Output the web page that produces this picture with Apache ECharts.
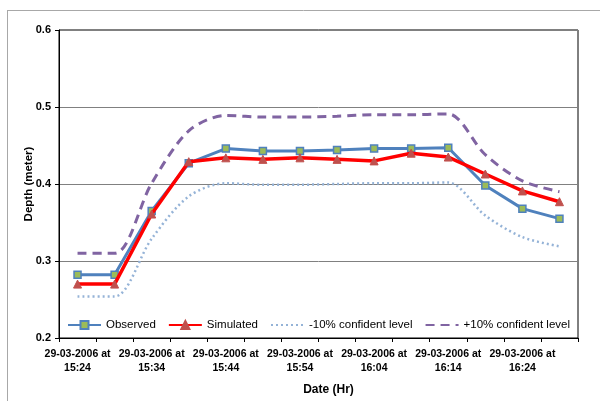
<!DOCTYPE html>
<html>
<head>
<meta charset="utf-8">
<script src="https://cdn.jsdelivr.net/npm/echarts@6/dist/echarts.min.js"></script>
<style>
  html, body { margin: 0; padding: 0; background: #fff; }
  #chart { width: 600px; height: 401px; }
</style>
</head>
<body>
<div id="chart"></div>
<script>
// time slots, every 5 min; only every other one gets a label
const times = ['15:24', '15:29', '15:34', '15:39', '15:44', '15:49', '15:54',
  '15:59', '16:04', '16:09', '16:14', '16:19', '16:24', '16:29'];
const observed = [0.282, 0.282, 0.365, 0.427, 0.446, 0.443, 0.443, 0.444, 0.446, 0.446, 0.447, 0.398, 0.368, 0.355];
const simulated = [0.270, 0.270, 0.361, 0.429, 0.434, 0.432, 0.434, 0.432, 0.430, 0.440, 0.435, 0.413, 0.391, 0.377];
const lower10 = [0.254, 0.254, 0.329, 0.384, 0.401, 0.399, 0.399, 0.400, 0.401, 0.401, 0.402, 0.359, 0.331, 0.319];
const upper10 = [0.310, 0.310, 0.401, 0.469, 0.489, 0.487, 0.487, 0.488, 0.490, 0.490, 0.491, 0.438, 0.404, 0.390];

const font = 'Liberation Sans, Arial, sans-serif';
const chart = echarts.init(document.getElementById('chart'));

const option = {
  animation: false,
  textStyle: { fontFamily: font },
  graphic: [
    // outer chart-area frame (cropped at right/bottom)
    { type: 'line', shape: { x1: 7.5, y1: 10, x2: 7.5, y2: 401 }, style: { stroke: '#a8a8a8', lineWidth: 1 } },
    { type: 'line', shape: { x1: 7, y1: 10.5, x2: 600, y2: 10.5 }, style: { stroke: '#a8a8a8', lineWidth: 1 } }
  ],
  grid: {
    left: 59, right: 22, top: 30, bottom: 62,
    show: true, borderColor: '#000', borderWidth: 1, backgroundColor: 'transparent'
  },
  legend: {
    left: 62, top: 314, width: 530,
    itemWidth: 33, itemHeight: 10, itemGap: 12,
    textStyle: { fontFamily: font, fontSize: 11.5, color: '#000' },
    data: [
      'Observed',
      'Simulated',
      { name: '-10% confident level', itemStyle: { opacity: 0 } },
      { name: '+10% confident level', itemStyle: { opacity: 0 } }
    ]
  },
  xAxis: {
    type: 'category',
    data: times,
    boundaryGap: true,
    name: 'Date (Hr)',
    nameLocation: 'middle',
    nameGap: 46,
    nameMoveOverlap: false,
    nameTextStyle: { fontFamily: font, fontWeight: 'bold', fontSize: 12, color: '#000', padding: [0, 0, 0, 20] },
    axisLine: { lineStyle: { color: '#000', width: 1 } },
    axisTick: { show: true, interval: 0, alignWithLabel: false, length: 4, inside: false, lineStyle: { color: '#000' } },
    axisLabel: {
      interval: 1,
      fontFamily: font, fontWeight: 'bold', fontSize: 10.5, color: '#000',
      lineHeight: 14, margin: 9,
      formatter: (v) => '29-03-2006 at\n' + v
    },
    splitLine: { show: false }
  },
  yAxis: {
    type: 'value',
    min: 0.2, max: 0.6, interval: 0.1,
    name: 'Depth (meter)',
    nameLocation: 'middle',
    nameGap: 24,
    nameMoveOverlap: false,
    nameTextStyle: { fontFamily: font, fontWeight: 'bold', fontSize: 11.5, color: '#000' },
    axisLine: { show: true, lineStyle: { color: '#000', width: 1 } },
    axisTick: { show: true, length: 4, lineStyle: { color: '#000' } },
    axisLabel: {
      fontFamily: font, fontWeight: 'bold', fontSize: 11, color: '#000', margin: 8,
      formatter: (v) => v.toFixed(1)
    },
    splitLine: { show: true, lineStyle: { color: '#808080', width: 1 } }
  },
  series: [
    {
      name: 'Observed', type: 'line', data: observed,
      symbol: 'rect', symbolSize: 7,
      lineStyle: { color: '#4F81BD', width: 3 },
      itemStyle: { color: '#9BBB59', borderColor: '#4F81BD', borderWidth: 1.5 },
      z: 3
    },
    {
      name: 'Simulated', type: 'line', data: simulated,
      symbol: 'triangle', symbolSize: 8,
      lineStyle: { color: '#FF0000', width: 3.5 },
      itemStyle: { color: '#C0504D', borderColor: '#C0504D', borderWidth: 1 },
      z: 4
    },
    {
      name: '-10% confident level', type: 'line', data: lower10,
      symbol: 'none', smooth: 0.3,
      lineStyle: { color: '#95B3D7', width: 2.5, type: [2, 3] },
      itemStyle: { color: '#95B3D7' },
      z: 2
    },
    {
      name: '+10% confident level', type: 'line', data: upper10,
      symbol: 'none', smooth: 0.3,
      lineStyle: { color: '#8064A2', width: 3, type: [9, 6] },
      itemStyle: { color: '#8064A2' },
      z: 5
    }
  ]
};

chart.setOption(option);
</script>
</body>
</html>
